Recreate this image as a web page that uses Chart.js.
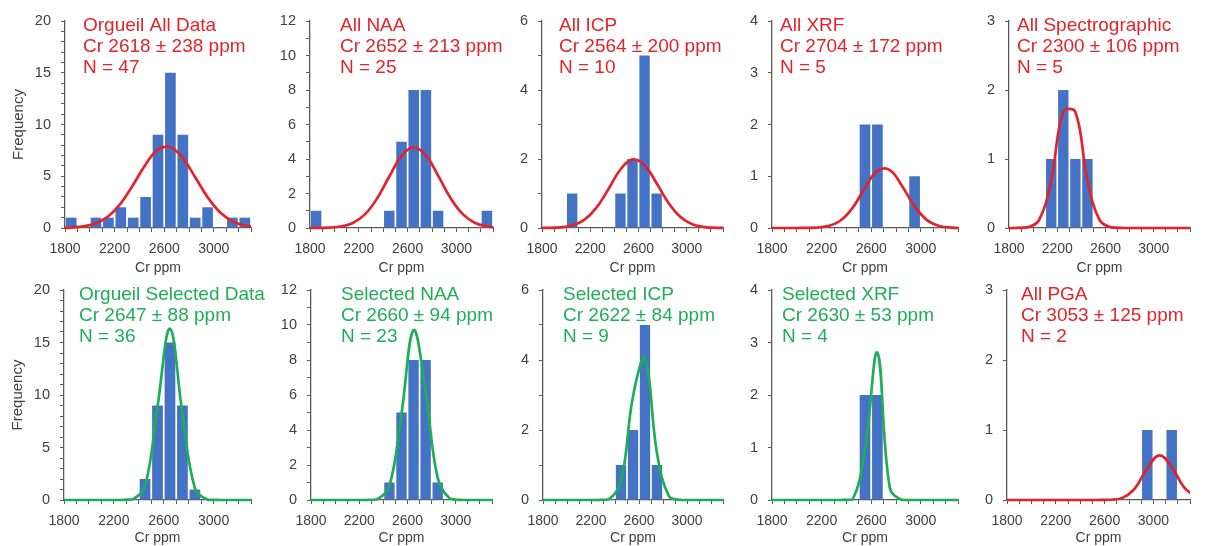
<!DOCTYPE html>
<html>
<head>
<meta charset="utf-8">
<script src="https://cdn.jsdelivr.net/npm/chart.js@4.4.1/dist/chart.umd.min.js"></script>
<style>
  body { margin: 0; background: #ffffff; width: 1206px; height: 546px; position: relative; overflow: hidden; }
  canvas { position: absolute; }
</style>
</head>
<body>
<script>
// histogram bins, 100 ppm wide, lower edges
var binStart = [1800, 1900, 2000, 2100, 2200, 2300, 2400, 2500, 2600, 2700, 2800, 2900, 3000, 3100, 3200];
var xTickLabels = [1800, 2200, 2600, 3000];

var panelNames = ['Orgueil All Data', 'All NAA', 'All ICP', 'All XRF', 'All Spectrographic',
                  'Orgueil Selected Data', 'Selected NAA', 'Selected ICP', 'Selected XRF', 'All PGA'];
var means = [2618, 2652, 2564, 2704, 2300, 2647, 2660, 2622, 2630, 3053];
var sds = [238, 213, 200, 172, 106, 88, 94, 84, 53, 125];
var nValues = [47, 25, 10, 5, 5, 36, 23, 9, 4, 2];
var selected = [false, false, false, false, false, true, true, true, true, false];

var binCounts = [
    [1, 0, 1, 1, 2, 1, 3, 9, 15, 9, 1, 2, 0, 1, 1],
    [1, 0, 0, 0, 0, 0, 1, 5, 8, 8, 1, 0, 0, 0, 1],
    [0, 0, 1, 0, 0, 0, 1, 2, 5, 1, 0, 0, 0, 0, 0],
    [0, 0, 0, 0, 0, 0, 0, 2, 2, 0, 0, 1, 0, 0, 0],
    [0, 0, 0, 1, 2, 1, 1, 0, 0, 0, 0, 0, 0, 0, 0],
    [0, 0, 0, 0, 0, 0, 2, 9, 15, 9, 1, 0, 0, 0, 0],
    [0, 0, 0, 0, 0, 0, 1, 5, 8, 8, 1, 0, 0, 0, 0],
    [0, 0, 0, 0, 0, 0, 1, 2, 5, 1, 0, 0, 0, 0, 0],
    [0, 0, 0, 0, 0, 0, 0, 2, 2, 0, 0, 0, 0, 0, 0],
    [0, 0, 0, 0, 0, 0, 0, 0, 0, 0, 0, 1, 0, 1, 0]
];

var yMax = [20, 12, 6, 4, 3, 20, 12, 6, 4, 3];
var yLabelStep = [5, 2, 2, 1, 1, 5, 2, 2, 1, 1];

// page layout of each panel (plot area in page pixels)
var axisLeft = [65, 310, 542, 772, 1009, 64, 311, 543, 772, 1007];
var plotWidth = [186, 183, 181, 186, 181, 187, 181, 180, 186, 183];
var textShift = [18, 30, 17, 8, 8, 15, 30, 20, 10, 14];
var rowTop = [0, 270];
var rowPad = [21, 20];
var rowPlotH = [207, 210];
var rowAxisH = [49, 47];

var RED = '#e3232b';
var GREEN = '#1fae57';
var BLUE = '#4472c4';
var AXIS = '#5a5a5a';
var FONT = "'Liberation Sans', Arial, sans-serif";

// normal curve scaled to counts per 100 ppm bin, evaluated at bin centres
function fitCurve(i) {
    var pts = [];
    var centres = [1750].concat(binStart.map(function (b) { return b + 50; })).concat([3350]);
    for (var k = 0; k < centres.length; k++) {
        var z = (centres[k] - means[i]) / sds[i];
        var y = nValues[i] * 100 / (sds[i] * Math.sqrt(2 * Math.PI)) * Math.exp(-0.5 * z * z);
        pts.push({ x: centres[k], y: y });
    }
    return pts;
}

var panelText = {
    id: 'panelText',
    afterDraw: function (chart, args, opts) {
        var ctx = chart.ctx;
        var a = chart.chartArea;
        var i = opts.index;
        var lines = [panelNames[i], 'Cr ' + means[i] + ' \u00b1 ' + sds[i] + ' ppm', 'N = ' + nValues[i]];
        ctx.save();
        ctx.fillStyle = selected[i] ? GREEN : RED;
        ctx.font = '19px ' + FONT;
        ctx.textAlign = 'left';
        ctx.textBaseline = 'alphabetic';
        for (var k = 0; k < lines.length; k++) {
            ctx.fillText(lines[k], a.left + textShift[i], a.top + 10 + k * 21);
        }
        ctx.restore();
    }
};

function drawPanel(i) {
    var row = i < 5 ? 0 : 1;
    var yW = (i % 5 === 0) ? 55 : 52;
    var rightPad = 40;
    var cv = document.createElement('canvas');
    var w = yW + plotWidth[i] + rightPad;
    var h = rowPad[row] + rowPlotH[row] + rowAxisH[row];
    cv.width = w;
    cv.height = h;
    cv.style.left = (axisLeft[i] - yW) + 'px';
    cv.style.top = rowTop[row] + 'px';
    cv.style.width = w + 'px';
    cv.style.height = h + 'px';
    document.body.appendChild(cv);

    var bars = [];
    for (var k = 0; k < binStart.length; k++) {
        bars.push({ x: binStart[k] + 50, y: binCounts[i][k] });
    }
    var lineColor = selected[i] ? GREEN : RED;

    new Chart(cv.getContext('2d'), {
        type: 'bar',
        data: {
            datasets: [
                {
                    type: 'line',
                    data: fitCurve(i),
                    borderColor: lineColor,
                    borderWidth: 2.7,
                    pointRadius: 0,
                    tension: 0.4,
                    fill: false,
                    clip: { left: 0, right: 0, top: 10, bottom: 3 }
                },
                {
                    type: 'bar',
                    data: bars,
                    backgroundColor: BLUE,
                    borderWidth: 0,
                    barPercentage: 0.86,
                    categoryPercentage: 1
                }
            ]
        },
        options: {
            responsive: false,
            animation: false,
            devicePixelRatio: 1,
            layout: { padding: { top: rowPad[row], right: rightPad, left: 0, bottom: 0 } },
            plugins: {
                legend: { display: false },
                tooltip: { enabled: false },
                panelText: { index: i }
            },
            scales: {
                x: {
                    type: 'linear',
                    min: 1800,
                    max: 3300,
                    offset: false,
                    afterFit: function (s) { s.height = rowAxisH[row]; },
                    grid: { drawOnChartArea: false, drawTicks: true, tickLength: 4, color: AXIS, offset: false },
                    border: { color: AXIS, width: 1.3 },
                    ticks: {
                        stepSize: 100,
                        autoSkip: false,
                        maxRotation: 0,
                        padding: 9,
                        color: '#404040',
                        font: { size: 14, family: FONT },
                        callback: function (v) { return xTickLabels.indexOf(v) >= 0 ? String(v) : ''; }
                    },
                    title: {
                        display: true,
                        text: 'Cr ppm',
                        color: '#404040',
                        font: { size: 14, family: FONT },
                        padding: 0
                    }
                },
                y: {
                    min: 0,
                    max: yMax[i],
                    afterFit: function (s) { s.width = yW; },
                    grid: { drawOnChartArea: false, drawTicks: true, tickLength: 4, color: AXIS },
                    border: { color: AXIS, width: 1.3 },
                    ticks: {
                        stepSize: 1,
                        autoSkip: false,
                        padding: 10,
                        color: '#404040',
                        font: { size: 14.5, family: FONT },
                        callback: function (v) { return v % yLabelStep[i] === 0 ? String(v) : ''; }
                    },
                    title: {
                        display: i % 5 === 0,
                        text: 'Frequency',
                        color: '#404040',
                        font: { size: 15, family: FONT },
                        padding: 0
                    }
                }
            }
        },
        plugins: [panelText]
    });
}

for (var p = 0; p < panelNames.length; p++) {
    drawPanel(p);
}
</script>
</body>
</html>
